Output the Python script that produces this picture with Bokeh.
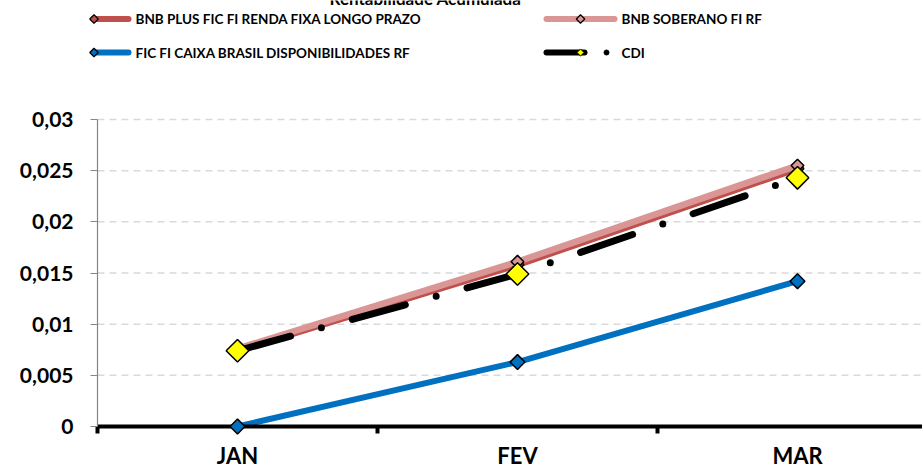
import math
from bokeh.plotting import figure
from bokeh.models import Range1d, FixedTicker
from bokeh.core.properties import value
from bokeh.embed import file_html
from bokeh.resources import INLINE

# ---------------- data ----------------
title_text = "Rentabilidade Acumulada"
months = ["JAN", "FEV", "MAR"]
series_names = [
    "BNB PLUS FIC FI RENDA FIXA LONGO PRAZO",
    "BNB SOBERANO FI RF",
    "FIC FI CAIXA BRASIL DISPONIBILIDADES RF",
    "CDI",
]
bnb_plus = [0.0074, 0.0158, 0.0252]
bnb_soberano = [0.0076, 0.0161, 0.0255]
caixa = [0.0, 0.0063, 0.0142]
cdi = [0.0074, 0.0149, 0.0243]
y_ticks = [0.0, 0.005, 0.01, 0.015, 0.02, 0.025, 0.03]
y_tick_labels = ["0", "0,005", "0,01", "0,015", "0,02", "0,025", "0,03"]

# ---------------- style / geometry ----------------
FONT = "Lato"
C_PLUS = "#C0504D"
C_SOB = "#D99694"
C_CAIXA = "#0070C0"
C_CDI = "black"
C_YEL = "#FFFF00"
W, H = 922, 471
AXIS_PX = 97           # left panel width = pixel column of the y axis
BORDER_B = 45          # bottom panel (month labels)
CAT_W = 280            # pixels per month
Y_TOP_PX = 119         # pixel row of the top gridline
ROT = math.pi / 4

frame_h = H - BORDER_B
y_max = max(y_ticks)
px_per_unit = (frame_h - Y_TOP_PX) / y_max
x_end = (W - AXIS_PX) / CAT_W
y_end = frame_h / px_per_unit


def sx(px):  # screen pixel column -> data x
    return (px - AXIS_PX) / CAT_W


def sy(py):  # screen pixel row -> data y
    return (frame_h - py) / px_per_unit


xs = [i + 0.5 for i in range(len(months))]

p = figure(width=W, height=H, x_range=Range1d(0, x_end), y_range=Range1d(0, y_end),
           output_backend="svg", toolbar_location=None,
           min_border_left=AXIS_PX, min_border_right=0, min_border_top=0,
           min_border_bottom=BORDER_B, outline_line_color=None,
           background_fill_color="white")

# ---------------- x axis ----------------
p.xaxis.ticker = FixedTicker(ticks=xs, minor_ticks=list(range(len(months) + 1)))
p.xaxis.major_label_overrides = {x: m for x, m in zip(xs, months)}
p.xaxis.axis_line_color = "black"
p.xaxis.axis_line_width = 4
p.xaxis.major_tick_line_color = None
p.xaxis.major_tick_out = 7
p.xaxis.major_tick_in = 0
p.xaxis.minor_tick_line_color = "black"
p.xaxis.minor_tick_line_width = 4
p.xaxis.minor_tick_in = 0
p.xaxis.minor_tick_out = 7
p.xaxis.major_label_standoff = 8
p.xaxis.major_label_text_font = FONT
p.xaxis.major_label_text_font_style = "bold"
p.xaxis.major_label_text_font_size = "22px"
p.xaxis.major_label_text_color = "black"

# ---------------- y axis ----------------
p.yaxis.ticker = FixedTicker(ticks=y_ticks, minor_ticks=[])
p.yaxis.major_label_overrides = {t: l for t, l in zip(y_ticks, y_tick_labels)}
p.yaxis.bounds = (0, y_max)
p.yaxis.axis_line_color = "#868686"
p.yaxis.axis_line_width = 1.2
p.yaxis.major_tick_line_color = "#868686"
p.yaxis.major_tick_line_width = 1.2
p.yaxis.major_tick_in = 0
p.yaxis.major_tick_out = 7
p.yaxis.major_label_standoff = 17
p.yaxis.major_label_text_font = FONT
p.yaxis.major_label_text_font_style = "bold"
p.yaxis.major_label_text_font_size = "21px"
p.yaxis.major_label_text_color = "black"

p.xgrid.grid_line_color = None
p.ygrid.grid_line_color = None
grid_ys = [t for t in y_ticks if t > 0]
p.segment(x0=[0] * len(grid_ys), y0=grid_ys, x1=[x_end] * len(grid_ys), y1=grid_ys,
          line_color="#D9D9D9", line_width=1.5, line_dash="7 5", level="underlay")

# ---------------- series ----------------
p.line(xs, bnb_plus, line_color=C_PLUS, line_width=6.5)
p.scatter(xs, bnb_plus, marker="square", size=9, angle=ROT, fill_color=C_PLUS,
          line_color="black", line_width=1.5)
p.line(xs, bnb_soberano, line_color=C_SOB, line_width=6.5)
p.scatter(xs, bnb_soberano, marker="square", size=9, angle=ROT, fill_color=C_SOB,
          line_color="black", line_width=1.5)
p.line(xs, caixa, line_color=C_CAIXA, line_width=6)
p.scatter(xs, caixa, marker="square", size=10.5, angle=ROT, fill_color=C_CAIXA,
          line_color="black", line_width=1.5, level="overlay")
p.line(xs, cdi, line_color=C_CDI, line_width=7, line_dash="55 32 0 32", line_cap="round")
p.scatter(xs, cdi, marker="square", size=16, angle=ROT, fill_color=C_YEL,
          line_color="black", line_width=1.5)

# ---------------- title (cut at top, as in the reference) ----------------
p.text(x=[sx(425)], y=[sy(-2)], text=[title_text], text_font=value(FONT), text_font_style="bold",
       text_font_size="17px", text_align="center", text_baseline="alphabetic", text_color="black")

# ---------------- legend (drawn above the plot area) ----------------
r1, r2 = sy(18.5), sy(52)
OV = "overlay"
p.line([sx(93), sx(128)], [r1, r1], line_color=C_PLUS, line_width=6, line_cap="round", level=OV)
p.scatter([sx(93.5)], [r1], marker="square", size=6, angle=ROT, fill_color=C_PLUS,
          line_color="black", line_width=1.2, level=OV)
p.line([sx(93), sx(128)], [r2, r2], line_color=C_CAIXA, line_width=6, line_cap="round", level=OV)
p.scatter([sx(93.5)], [r2], marker="square", size=6, angle=ROT, fill_color=C_CAIXA,
          line_color="black", line_width=1.2, level=OV)
p.line([sx(546), sx(614)], [r1, r1], line_color=C_SOB, line_width=6, line_cap="round", level=OV)
p.scatter([sx(580)], [r1], marker="square", size=6, angle=ROT, fill_color=C_SOB,
          line_color="black", line_width=1.2, level=OV)
p.line([sx(546), sx(584)], [r2, r2], line_color=C_CDI, line_width=6, line_cap="round", level=OV)
p.scatter([sx(580)], [r2], marker="square", size=5, angle=ROT, fill_color=C_YEL,
          line_color="black", line_width=1, level=OV)
p.scatter([sx(606)], [r2], marker="circle", size=5, fill_color="black", line_color="black",
          level=OV)

p.text(x=[sx(135), sx(621), sx(135), sx(621)], y=[r1, r1, r2, r2], text=series_names,
       text_font=value(FONT), text_font_style="bold", text_font_size="13.5px",
       text_baseline="middle", text_align="left", text_color="black", level=OV)

open("out.html", "w").write(file_html(p, INLINE))
